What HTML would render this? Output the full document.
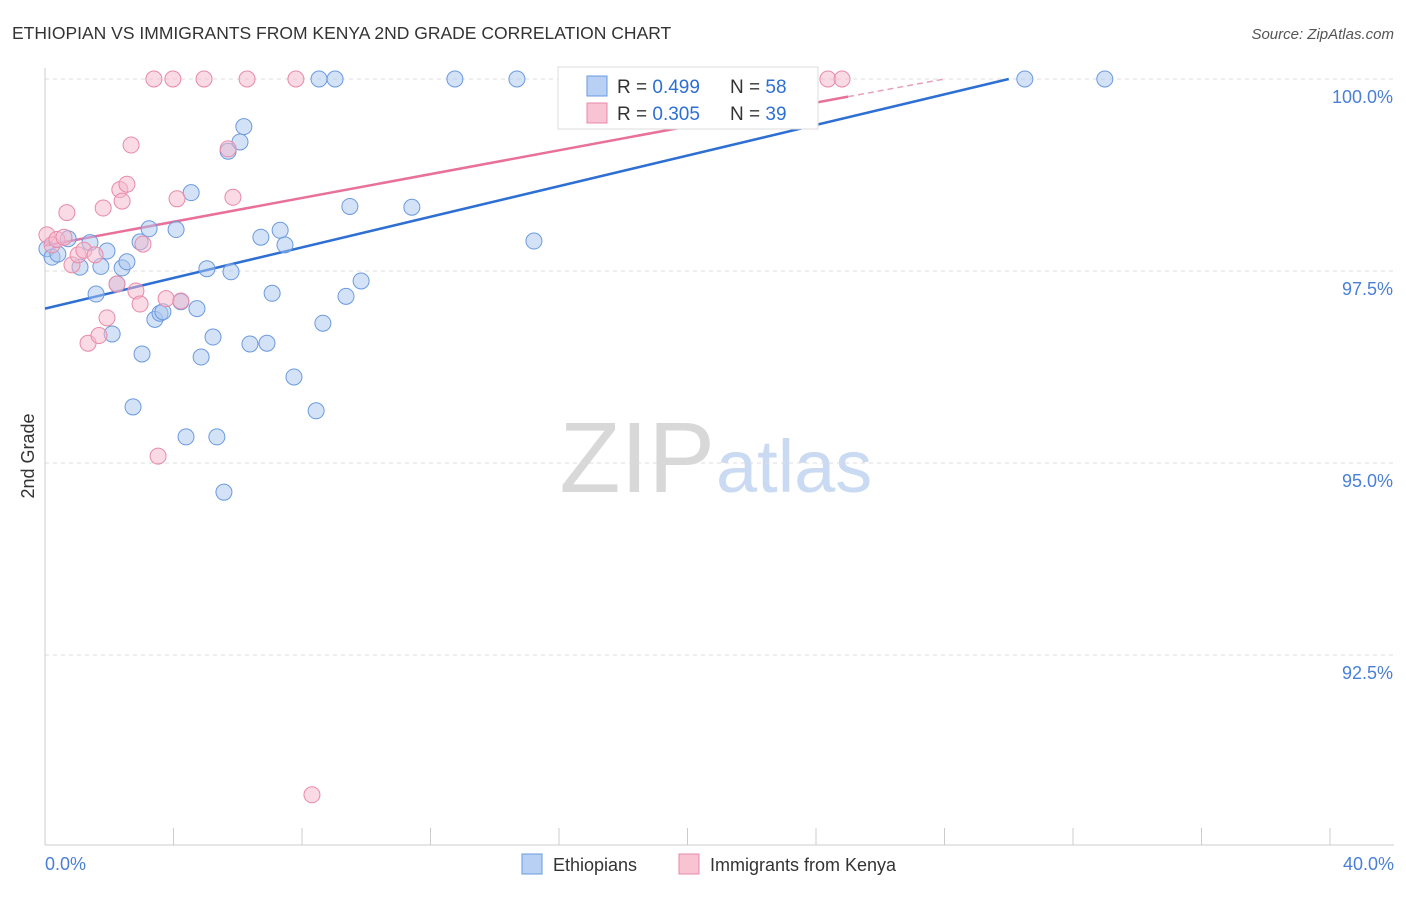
<!DOCTYPE html>
<html><head><meta charset="utf-8"><style>
body{margin:0;background:#fff;font-family:"Liberation Sans",sans-serif}
svg text{font-family:"Liberation Sans",sans-serif}
</style></head><body>
<svg id="chart" width="1406" height="892">
<text x="12" y="39" font-size="17.5" fill="#333">ETHIOPIAN VS IMMIGRANTS FROM KENYA 2ND GRADE CORRELATION CHART</text>
<text x="1394" y="39" font-size="15" fill="#555" font-style="italic" text-anchor="end">Source: ZipAtlas.com</text>
<text x="715" y="492" font-size="100" fill="#d8d8d8" font-family="Liberation Serif,serif" text-anchor="end">ZIP</text>
<text x="716" y="492" font-size="74" fill="#c9daf2">atlas</text>
<text transform="translate(34,456) rotate(-90)" font-size="18" fill="#333" text-anchor="middle">2nd Grade</text>
<g id="grid"></g><g id="lines"></g><g id="pts"></g>
<g>
<rect x="558" y="67" width="260" height="62" fill="#fff" stroke="#ddd"/>
<rect x="587" y="76" width="20" height="20" fill="#b7d0f4" stroke="#6a9ae0"/>
<text x="617" y="93" font-size="19" fill="#333">R = <tspan fill="#2e6fd4">0.499</tspan></text>
<text x="730" y="93" font-size="19" fill="#333">N = <tspan fill="#2e6fd4">58</tspan></text>
<rect x="587" y="103" width="20" height="20" fill="#f8c3d3" stroke="#e88aa8"/>
<text x="617" y="120" font-size="19" fill="#333">R = <tspan fill="#2e6fd4">0.305</tspan></text>
<text x="730" y="120" font-size="19" fill="#333">N = <tspan fill="#2e6fd4">39</tspan></text>
</g>
<g>
<rect x="522" y="854" width="20" height="20" fill="#b7d0f4" stroke="#6a9ae0"/>
<text x="553" y="871" font-size="18" fill="#333">Ethiopians</text>
<rect x="679" y="854" width="20" height="20" fill="#f8c3d3" stroke="#e88aa8"/>
<text x="710" y="871" font-size="18" fill="#333">Immigrants from Kenya</text>
</g>
</svg>
<script>
const yTicks=[100,97.5,95,92.5];
const yTickLabels=["100.0%","97.5%","95.0%","92.5%"];
const xTicks=[0,4,8,12,16,20,24,28,32,36,40];
const blueX=[0.06,0.22,0.40,0.72,1.09,1.40,1.59,1.74,1.93,2.09,2.24,2.40,2.55,2.74,2.96,3.02,3.24,3.42,3.58,3.67,4.08,4.23,4.39,4.55,4.73,4.86,5.04,5.23,5.35,5.57,5.70,5.79,6.07,6.19,6.38,6.72,6.91,7.07,7.32,7.47,7.75,8.44,8.53,8.65,9.03,9.37,9.49,9.84,11.42,12.76,14.69,15.22,20.67,30.50,32.99];
const blueY=[97.79,97.68,97.72,97.92,97.55,97.87,97.20,97.56,97.76,96.68,97.33,97.54,97.62,95.73,97.88,96.42,98.05,96.87,96.95,96.97,98.04,97.10,95.34,98.52,97.01,96.38,97.53,96.64,95.34,94.62,99.06,97.49,99.18,99.38,96.55,97.94,96.56,97.21,98.03,97.84,96.12,95.68,100,96.82,100,97.17,98.34,97.37,98.33,100,100,97.89,100,100,100];
const pinkX=[0.06,0.22,0.37,0.59,0.68,0.84,1.03,1.21,1.34,1.56,1.68,1.81,1.93,2.24,2.33,2.40,2.55,2.68,2.83,2.96,3.05,3.39,3.52,3.77,3.98,4.11,4.23,4.95,5.70,5.85,6.29,7.81,8.31,23.25,24.37,24.81];
const pinkY=[97.97,97.84,97.91,97.94,98.26,97.58,97.71,97.77,96.56,97.71,96.66,98.32,96.89,97.33,98.56,98.41,98.63,99.14,97.24,97.07,97.85,100,95.09,97.14,100,98.44,97.11,100,99.09,98.46,100,100,90.68,100,100,100];
const blueLine=[0,97.01,30.0,100];
const pinkLine=[0,97.83,25.0,99.77,28.0,100];
const X=v=>45+v*32.125, Y=v=>79+(100-v)*76.8;
const NS="http://www.w3.org/2000/svg";
function mk(t,a,p){const e=document.createElementNS(NS,t);for(const k in a)e.setAttribute(k,a[k]);document.getElementById(p).appendChild(e);return e;}
yTicks.forEach((v,i)=>{
 const g=mk('line',{x1:45,x2:1394,y1:Y(v),y2:Y(v),stroke:'#ddd','stroke-dasharray':'4,4'},'grid');
 
 
 const t=mk('text',{x:1393,y:Y(v)+24,'font-size':18,fill:'#4a7fd6','text-anchor':'end'},'grid');
 t.textContent=yTickLabels[i];
 
 
});
const ax=mk('line',{x1:45,x2:45,y1:68,y2:845,stroke:'#ccc'},'grid');


const bx=mk('line',{x1:45,x2:1394,y1:845,y2:845,stroke:'#ccc'},'grid');


xTicks.forEach(v=>{const t=mk('line',{x1:X(v),x2:X(v),y1:828,y2:845,stroke:'#ccc'},'grid');
 
 });
[[0,"0.0%",45,'start'],[40,"40.0%",1394,'end']].forEach(a=>{const t=mk('text',{x:a[2],y:870,'font-size':18,fill:'#4a7fd6','text-anchor':a[3]},'grid');t.textContent=a[1];
 
 });
function pts(xs,ys,f,s,n){xs.forEach((x,i)=>{const c=mk('circle',{cx:X(x),cy:Y(ys[i]),r:8,fill:f,'fill-opacity':0.5,stroke:s,'stroke-width':1},'pts');
 
 });}
pts(blueX,blueY,'#a9c6f0','#6a9ae0','ethiopian-point');
pts(pinkX,pinkY,'#f5b8cb','#e88aa8','kenya-point');
const bl=mk('line',{x1:X(blueLine[0]),y1:Y(blueLine[1]),x2:X(blueLine[2]),y2:Y(blueLine[3]),stroke:'#2e6fd4','stroke-width':2.5},'lines');


const pl=mk('line',{x1:X(pinkLine[0]),y1:Y(pinkLine[1]),x2:X(pinkLine[2]),y2:Y(pinkLine[3]),stroke:'#e8709a','stroke-width':2.5},'lines');


const pd=mk('line',{x1:X(pinkLine[2]),y1:Y(pinkLine[3]),x2:X(pinkLine[4]),y2:Y(pinkLine[5]),stroke:'#e8a0b8','stroke-width':1.5,'stroke-dasharray':'6,4'},'lines');


</script>
</body></html>
